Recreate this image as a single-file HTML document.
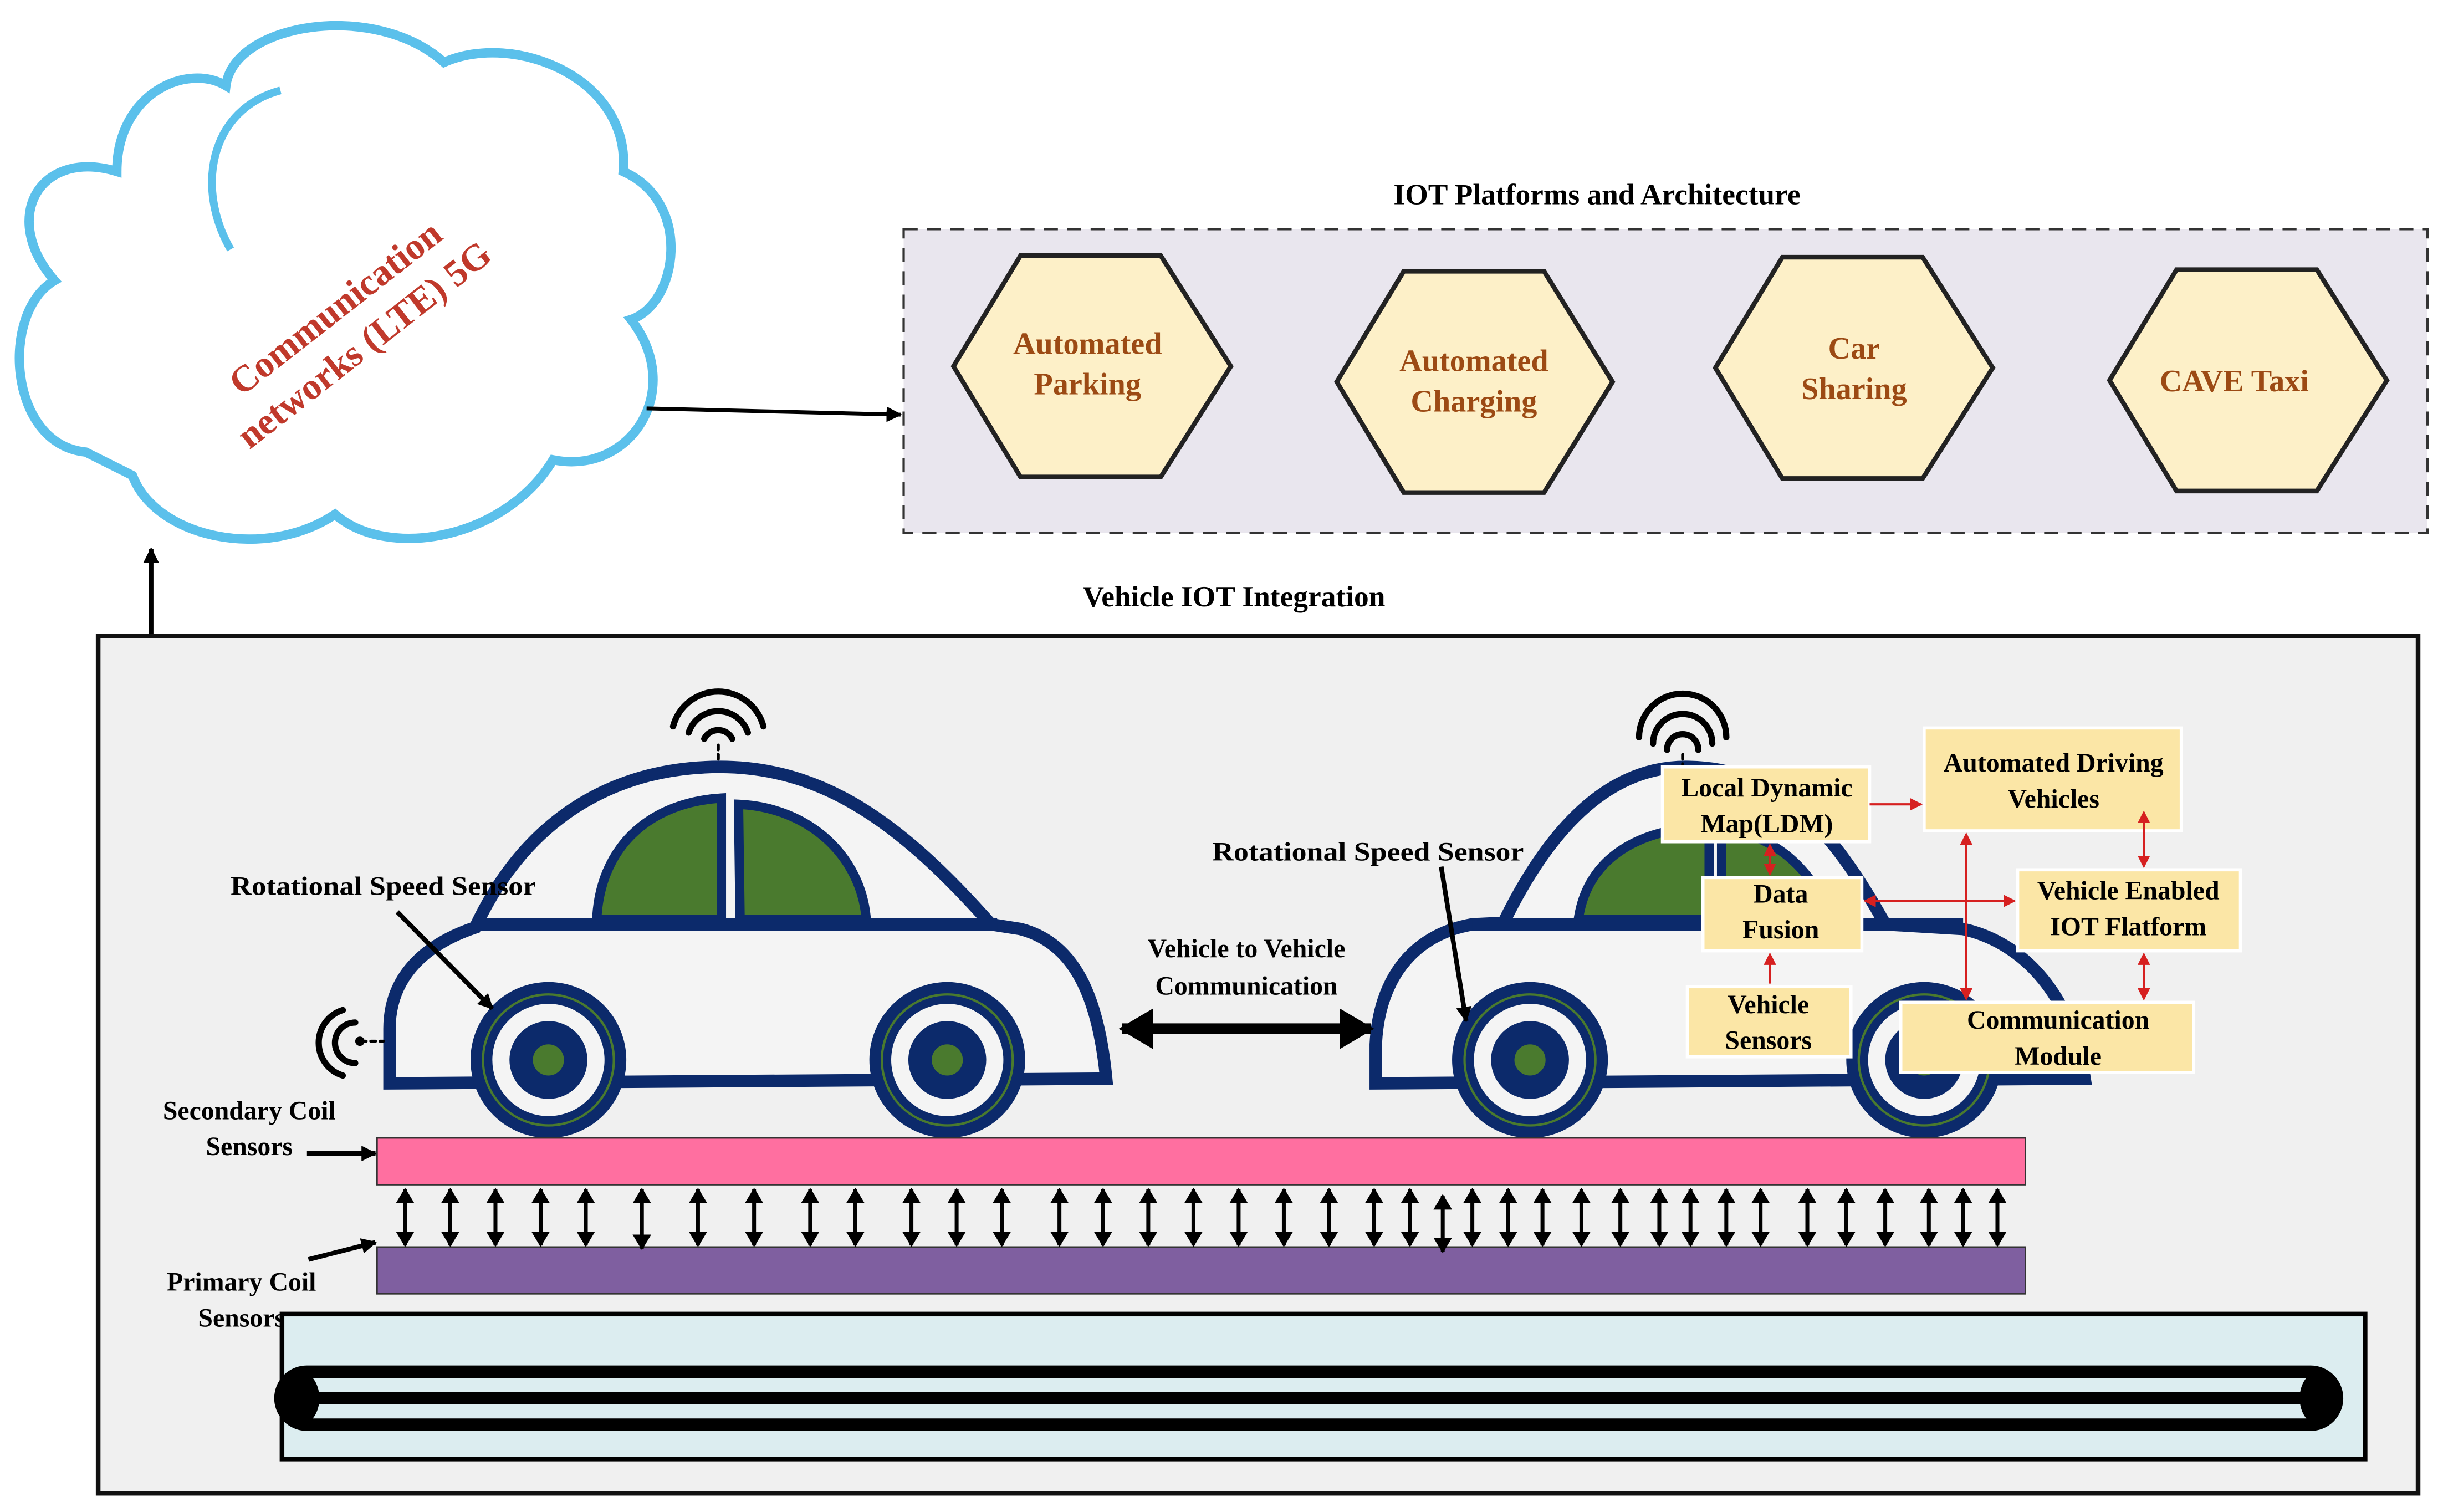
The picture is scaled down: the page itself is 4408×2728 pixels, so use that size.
<!DOCTYPE html>
<html><head><meta charset="utf-8"><style>
html,body{margin:0;padding:0;background:#fff;}
svg{display:block;}
text{font-family:"Liberation Serif",serif;font-weight:bold;}
</style></head><body>
<svg width="4408" height="2728" viewBox="0 0 1568 970" preserveAspectRatio="none" xmlns="http://www.w3.org/2000/svg">
<defs>
<marker id="ab" markerWidth="10" markerHeight="10" refX="9" refY="5" orient="auto" markerUnits="userSpaceOnUse"><path d="M0,0 L10,5 L0,10 z" fill="#000"/></marker>
<marker id="abs" markerWidth="10" markerHeight="12" refX="9" refY="6" orient="auto-start-reverse" markerUnits="userSpaceOnUse"><path d="M0,0 L10,6 L0,12 z" fill="#000"/></marker>
<marker id="ar" markerWidth="8" markerHeight="8" refX="7" refY="4" orient="auto-start-reverse" markerUnits="userSpaceOnUse"><path d="M0,0 L8,4 L0,8 z" fill="#d62020"/></marker>
<marker id="big" markerWidth="22" markerHeight="26" refX="20" refY="13" orient="auto-start-reverse" markerUnits="userSpaceOnUse"><path d="M0,0 L22,13 L0,26 z" fill="#000"/></marker>
</defs>
<rect width="1568" height="970" fill="#fff"/>
<!-- Cloud -->
<path d="M55,290 C5,285 0,200 35,180 C0,140 25,95 75,110 C75,60 120,40 145,55 C150,15 240,0 285,40 C330,20 405,50 400,110 C445,130 435,195 405,205 C440,250 405,305 355,295 C325,345 250,360 215,330 C170,360 100,345 85,305 C75,300 65,295 55,290 Z" fill="#fff" stroke="#5bc0eb" stroke-width="6"/>
<path d="M148,160 C125,120 135,70 180,58" fill="none" stroke="#5bc0eb" stroke-width="5"/>
<g transform="translate(225,210) rotate(-38)" fill="#c0392b" font-size="24" text-anchor="middle">
<text x="0" y="-8">Communication</text><text x="0" y="22">networks (LTE) 5G</text></g>
<line x1="415" y1="262" x2="578" y2="266" stroke="#000" stroke-width="2.5" marker-end="url(#ab)"/>
<line x1="97" y1="408" x2="97" y2="352" stroke="#000" stroke-width="3" marker-end="url(#ab)"/>
<!-- IOT platforms -->
<text x="1025" y="131" font-size="19" text-anchor="middle">IOT Platforms and Architecture</text>
<rect x="580" y="147" width="978" height="195" fill="#e9e6ee" stroke="#333" stroke-width="1.5" stroke-dasharray="9,6"/>
<g fill="#fdf0c8" stroke="#222" stroke-width="3">
<polygon points="612,235 655,164 745,164 790,235 745,306 655,306"/>
<polygon points="858,245 901,174 991,174 1035,245 991,316 901,316"/>
<polygon points="1101,236 1144,165 1234,165 1279,236 1234,307 1144,307"/>
<polygon points="1354,244 1397,173 1487,173 1532,244 1487,315 1397,315"/>
</g>
<g fill="#9c4a14" font-size="20" text-anchor="middle">
<text x="698" y="227">Automated</text><text x="698" y="253">Parking</text>
<text x="946" y="238">Automated</text><text x="946" y="264">Charging</text>
<text x="1190" y="230">Car</text><text x="1190" y="256">Sharing</text>
<text x="1434" y="251">CAVE Taxi</text>
</g>
<!-- Vehicle IOT Integration -->
<text x="792" y="389" font-size="19" text-anchor="middle">Vehicle IOT Integration</text>
<rect x="63" y="408" width="1489" height="550" fill="#f0f0f0" stroke="#111" stroke-width="3"/>
<!-- Left car -->
<g stroke="#0c2a6b" stroke-width="8" fill="#f4f4f4">
<path d="M250,695 L250,660 C250,625 275,605 305,595 C340,520 400,492 462,492 C530,492 580,530 636,593 L655,596 C690,605 705,640 710,692 Z"/>
<line x1="305" y1="593" x2="640" y2="593"/>
</g>
<g fill="#4a7a2e" stroke="#0c2a6b" stroke-width="6">
<path d="M383,590 C385,545 415,515 463,512 L463,590 Z"/>
<path d="M475,590 L474,516 C520,518 553,550 556,590 Z"/>
</g>
<g>
<circle cx="352" cy="680" r="50" fill="#0c2a6b"/><circle cx="352" cy="680" r="42" fill="none" stroke="#4a7a2e" stroke-width="1.5"/><circle cx="352" cy="680" r="36" fill="#f4f4f4"/><circle cx="352" cy="680" r="25" fill="#0c2a6b"/><circle cx="352" cy="680" r="10" fill="#4a7a2e"/>
<circle cx="608" cy="680" r="50" fill="#0c2a6b"/><circle cx="608" cy="680" r="42" fill="none" stroke="#4a7a2e" stroke-width="1.5"/><circle cx="608" cy="680" r="36" fill="#f4f4f4"/><circle cx="608" cy="680" r="25" fill="#0c2a6b"/><circle cx="608" cy="680" r="10" fill="#4a7a2e"/>
</g>
<g fill="none" stroke="#000" stroke-width="4" stroke-linecap="round">
<path d="M432,466 A30,30 0 0 1 490,466"/><path d="M442,470 A20,20 0 0 1 480,470"/><path d="M452,474 A10,10 0 0 1 470,474"/>
<line x1="461" y1="478" x2="461" y2="490" stroke-width="2" stroke-dasharray="3,3"/>
<path d="M220,648 A22,22 0 0 0 220,690"/><path d="M228,656 A13,13 0 0 0 228,682"/>
<line x1="232" y1="668" x2="246" y2="668" stroke-width="2" stroke-dasharray="3,3"/>
</g>
<circle cx="231" cy="668" r="3" fill="#000"/>
<!-- Right car -->
<g stroke="#0c2a6b" stroke-width="8" fill="#f4f4f4">
<path d="M883,695 L883,670 C885,630 905,600 945,593 L965,592 C1000,520 1040,492 1082,492 C1140,492 1175,530 1210,593 L1260,596 C1300,605 1330,640 1338,692 Z"/>
<line x1="945" y1="593" x2="1260" y2="593"/>
</g>
<g fill="#4a7a2e" stroke="#0c2a6b" stroke-width="6">
<path d="M1013,590 C1018,555 1045,532 1097,530 L1097,590 Z"/>
<path d="M1105,590 L1105,532 C1140,535 1165,560 1175,590 Z"/>
</g>
<g>
<circle cx="982" cy="680" r="50" fill="#0c2a6b"/><circle cx="982" cy="680" r="42" fill="none" stroke="#4a7a2e" stroke-width="1.5"/><circle cx="982" cy="680" r="36" fill="#f4f4f4"/><circle cx="982" cy="680" r="25" fill="#0c2a6b"/><circle cx="982" cy="680" r="10" fill="#4a7a2e"/>
<circle cx="1235" cy="680" r="50" fill="#0c2a6b"/><circle cx="1235" cy="680" r="42" fill="none" stroke="#4a7a2e" stroke-width="1.5"/><circle cx="1235" cy="680" r="36" fill="#f4f4f4"/><circle cx="1235" cy="680" r="25" fill="#0c2a6b"/><circle cx="1235" cy="680" r="10" fill="#4a7a2e"/>
</g>
<g fill="none" stroke="#000" stroke-width="4" stroke-linecap="round">
<path d="M1052,473 A28,28 0 0 1 1108,473"/><path d="M1061,477 A19,19 0 0 1 1099,477"/><path d="M1070,481 A10,10 0 0 1 1090,481"/>
<line x1="1080" y1="484" x2="1080" y2="494" stroke-width="2" stroke-dasharray="3,3"/>
</g>
<!-- yellow boxes -->
<g fill="#fbe6a6" stroke="#fff" stroke-width="2">
<rect x="1067" y="492" width="133" height="48"/>
<rect x="1235" y="467" width="165" height="66"/>
<rect x="1093" y="563" width="102" height="47"/>
<rect x="1295" y="558" width="143" height="52"/>
<rect x="1083" y="633" width="105" height="45"/>
<rect x="1220" y="643" width="188" height="45"/>
</g>
<g font-size="17" text-anchor="middle" fill="#000">
<text x="1134" y="511">Local Dynamic</text><text x="1134" y="534">Map(LDM)</text>
<text x="1318" y="495">Automated Driving</text><text x="1318" y="518">Vehicles</text>
<text x="1143" y="579">Data</text><text x="1143" y="602">Fusion</text>
<text x="1366" y="577">Vehicle Enabled</text><text x="1366" y="600">IOT Flatform</text>
<text x="1135" y="650">Vehicle</text><text x="1135" y="673">Sensors</text>
<text x="1321" y="660">Communication</text><text x="1321" y="683">Module</text>
</g>
<g stroke="#d62020" stroke-width="1.5" fill="none">
<line x1="1200" y1="516" x2="1233" y2="516" marker-end="url(#ar)"/>
<line x1="1136" y1="542" x2="1136" y2="561" marker-start="url(#ar)" marker-end="url(#ar)"/>
<line x1="1197" y1="578" x2="1293" y2="578" marker-start="url(#ar)" marker-end="url(#ar)"/>
<line x1="1136" y1="631" x2="1136" y2="612" marker-end="url(#ar)"/>
<line x1="1262" y1="535" x2="1262" y2="641" marker-start="url(#ar)" marker-end="url(#ar)"/>
<line x1="1376" y1="521" x2="1376" y2="556" marker-start="url(#ar)" marker-end="url(#ar)"/>
<line x1="1376" y1="612" x2="1376" y2="641" marker-start="url(#ar)" marker-end="url(#ar)"/>
</g>
<!-- labels -->
<g font-size="17" fill="#000">
<text x="148" y="574" textLength="196" lengthAdjust="spacingAndGlyphs">Rotational Speed Sensor</text>
<text x="778" y="552" textLength="200" lengthAdjust="spacingAndGlyphs">Rotational Speed Sensor</text>
<text x="800" y="614" text-anchor="middle">Vehicle to Vehicle</text>
<text x="800" y="638" text-anchor="middle">Communication</text>
<text x="160" y="718" text-anchor="middle">Secondary Coil</text>
<text x="160" y="741" text-anchor="middle">Sensors</text>
<text x="155" y="828" text-anchor="middle">Primary Coil</text>
<text x="155" y="851" text-anchor="middle">Sensors</text>
</g>
<g stroke="#000" stroke-width="3">
<line x1="255" y1="585" x2="316" y2="647" marker-end="url(#ab)"/>
<line x1="925" y1="556" x2="941" y2="655" marker-end="url(#ab)"/>
<line x1="197" y1="740" x2="241" y2="740" marker-end="url(#ab)"/>
<line x1="198" y1="808" x2="241" y2="797" marker-end="url(#ab)"/>
<line x1="720" y1="660" x2="880" y2="660" stroke-width="7" marker-start="url(#big)" marker-end="url(#big)"/>
</g>
<!-- coils -->
<rect x="242" y="730" width="1058" height="30" fill="#ff6fa0" stroke="#333" stroke-width="1"/>
<rect x="242" y="800" width="1058" height="30" fill="#7f5fa0" stroke="#333" stroke-width="1"/>
<g stroke="#000" stroke-width="2.5">
<line x1="260" y1="763" x2="260" y2="799" marker-start="url(#abs)" marker-end="url(#abs)"/>
<line x1="289" y1="763" x2="289" y2="799" marker-start="url(#abs)" marker-end="url(#abs)"/>
<line x1="318" y1="763" x2="318" y2="799" marker-start="url(#abs)" marker-end="url(#abs)"/>
<line x1="347" y1="763" x2="347" y2="799" marker-start="url(#abs)" marker-end="url(#abs)"/>
<line x1="376" y1="763" x2="376" y2="799" marker-start="url(#abs)" marker-end="url(#abs)"/>
<line x1="412" y1="763" x2="412" y2="801" marker-start="url(#abs)" marker-end="url(#abs)"/>
<line x1="448" y1="763" x2="448" y2="799" marker-start="url(#abs)" marker-end="url(#abs)"/>
<line x1="484" y1="763" x2="484" y2="799" marker-start="url(#abs)" marker-end="url(#abs)"/>
<line x1="520" y1="763" x2="520" y2="799" marker-start="url(#abs)" marker-end="url(#abs)"/>
<line x1="549" y1="763" x2="549" y2="799" marker-start="url(#abs)" marker-end="url(#abs)"/>
<line x1="585" y1="763" x2="585" y2="799" marker-start="url(#abs)" marker-end="url(#abs)"/>
<line x1="614" y1="763" x2="614" y2="799" marker-start="url(#abs)" marker-end="url(#abs)"/>
<line x1="643" y1="763" x2="643" y2="799" marker-start="url(#abs)" marker-end="url(#abs)"/>
<line x1="680" y1="763" x2="680" y2="799" marker-start="url(#abs)" marker-end="url(#abs)"/>
<line x1="708" y1="763" x2="708" y2="799" marker-start="url(#abs)" marker-end="url(#abs)"/>
<line x1="737" y1="763" x2="737" y2="799" marker-start="url(#abs)" marker-end="url(#abs)"/>
<line x1="766" y1="763" x2="766" y2="799" marker-start="url(#abs)" marker-end="url(#abs)"/>
<line x1="795" y1="763" x2="795" y2="799" marker-start="url(#abs)" marker-end="url(#abs)"/>
<line x1="824" y1="763" x2="824" y2="799" marker-start="url(#abs)" marker-end="url(#abs)"/>
<line x1="853" y1="763" x2="853" y2="799" marker-start="url(#abs)" marker-end="url(#abs)"/>
<line x1="882" y1="763" x2="882" y2="799" marker-start="url(#abs)" marker-end="url(#abs)"/>
<line x1="905" y1="763" x2="905" y2="799" marker-start="url(#abs)" marker-end="url(#abs)"/>
<line x1="926" y1="767" x2="926" y2="803" marker-start="url(#abs)" marker-end="url(#abs)"/>
<line x1="945" y1="763" x2="945" y2="799" marker-start="url(#abs)" marker-end="url(#abs)"/>
<line x1="968" y1="763" x2="968" y2="799" marker-start="url(#abs)" marker-end="url(#abs)"/>
<line x1="990" y1="763" x2="990" y2="799" marker-start="url(#abs)" marker-end="url(#abs)"/>
<line x1="1015" y1="763" x2="1015" y2="799" marker-start="url(#abs)" marker-end="url(#abs)"/>
<line x1="1040" y1="763" x2="1040" y2="799" marker-start="url(#abs)" marker-end="url(#abs)"/>
<line x1="1065" y1="763" x2="1065" y2="799" marker-start="url(#abs)" marker-end="url(#abs)"/>
<line x1="1085" y1="763" x2="1085" y2="799" marker-start="url(#abs)" marker-end="url(#abs)"/>
<line x1="1108" y1="763" x2="1108" y2="799" marker-start="url(#abs)" marker-end="url(#abs)"/>
<line x1="1130" y1="763" x2="1130" y2="799" marker-start="url(#abs)" marker-end="url(#abs)"/>
<line x1="1160" y1="763" x2="1160" y2="799" marker-start="url(#abs)" marker-end="url(#abs)"/>
<line x1="1185" y1="763" x2="1185" y2="799" marker-start="url(#abs)" marker-end="url(#abs)"/>
<line x1="1210" y1="763" x2="1210" y2="799" marker-start="url(#abs)" marker-end="url(#abs)"/>
<line x1="1238" y1="763" x2="1238" y2="799" marker-start="url(#abs)" marker-end="url(#abs)"/>
<line x1="1260" y1="763" x2="1260" y2="799" marker-start="url(#abs)" marker-end="url(#abs)"/>
<line x1="1282" y1="763" x2="1282" y2="799" marker-start="url(#abs)" marker-end="url(#abs)"/>
</g>
<!-- base -->
<rect x="181" y="843" width="1337" height="93" fill="#dcedf0" stroke="#000" stroke-width="3"/>
<rect x="180" y="880" width="1320" height="34" rx="17" fill="none" stroke="#000" stroke-width="8"/>
<line x1="195" y1="897" x2="1485" y2="897" stroke="#000" stroke-width="8"/>
<ellipse cx="193" cy="897" rx="12" ry="17" fill="#000"/>
<ellipse cx="1488" cy="897" rx="12" ry="17" fill="#000"/>
</svg>
</body></html>
